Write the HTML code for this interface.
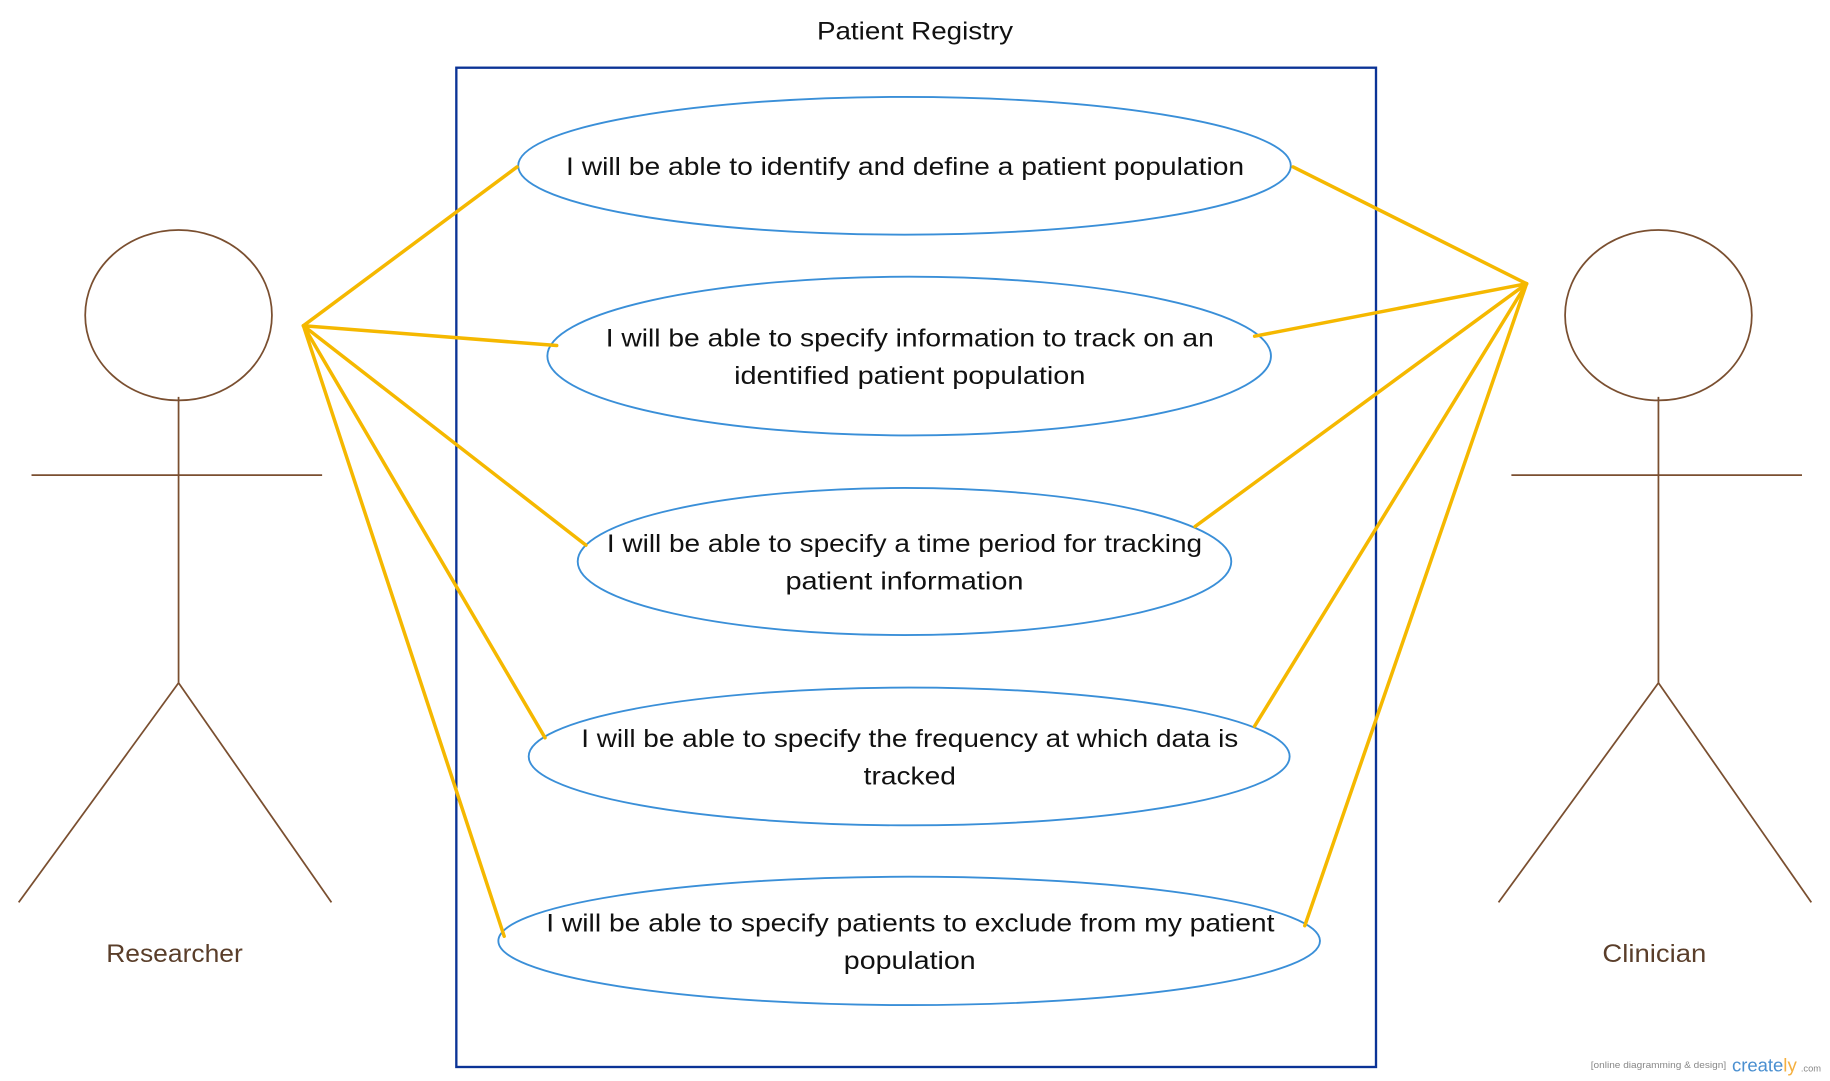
<!DOCTYPE html>
<html><head><meta charset="utf-8"><style>
html,body{margin:0;padding:0;background:#fff;}
svg{display:block;}
text{font-family:"Liberation Sans",sans-serif;}
</style></head><body>
<svg width="1830" height="1081" viewBox="0 0 1568 926" preserveAspectRatio="none" xmlns="http://www.w3.org/2000/svg">
<rect width="1568" height="934" fill="#fff"/>
<text x="700" y="34" font-size="21" fill="#111" textLength="168" lengthAdjust="spacingAndGlyphs">Patient Registry</text>
<rect x="391" y="58" width="788" height="856" fill="none" stroke="#0b3396" stroke-width="2"/>
<g fill="none" stroke="#3a8fd8" stroke-width="1.6">
<ellipse cx="775" cy="142" rx="331" ry="59"/>
<ellipse cx="779" cy="305" rx="310" ry="68"/>
<ellipse cx="775" cy="481" rx="280" ry="63"/>
<ellipse cx="779" cy="648" rx="326" ry="59"/>
<ellipse cx="779" cy="806" rx="352" ry="55"/>
</g>
<g font-size="21" fill="#111">
<text x="485" y="150" textLength="581" lengthAdjust="spacingAndGlyphs">I will be able to identify and define a patient population</text>
<text x="519" y="297" textLength="521" lengthAdjust="spacingAndGlyphs">I will be able to specify information to track on an</text>
<text x="629" y="329" textLength="301" lengthAdjust="spacingAndGlyphs">identified patient population</text>
<text x="520" y="473" textLength="510" lengthAdjust="spacingAndGlyphs">I will be able to specify a time period for tracking</text>
<text x="673" y="505" textLength="204" lengthAdjust="spacingAndGlyphs">patient information</text>
<text x="498" y="640" textLength="563" lengthAdjust="spacingAndGlyphs">I will be able to specify the frequency at which data is</text>
<text x="740" y="672" textLength="79" lengthAdjust="spacingAndGlyphs">tracked</text>
<text x="468" y="798" textLength="624" lengthAdjust="spacingAndGlyphs">I will be able to specify patients to exclude from my patient</text>
<text x="723" y="830" textLength="113" lengthAdjust="spacingAndGlyphs">population</text>
</g>
<g fill="none" stroke="#7a4f30" stroke-width="1.5">
<ellipse cx="153" cy="270" rx="80" ry="73"/>
<line x1="153" y1="340" x2="153" y2="585"/>
<line x1="27" y1="407" x2="276" y2="407"/>
<line x1="153" y1="585" x2="16" y2="773"/>
<line x1="153" y1="585" x2="284" y2="773"/>
<ellipse cx="1421" cy="270" rx="80" ry="73"/>
<line x1="1421" y1="340" x2="1421" y2="585"/>
<line x1="1295" y1="407" x2="1544" y2="407"/>
<line x1="1421" y1="585" x2="1284" y2="773"/>
<line x1="1421" y1="585" x2="1552" y2="773"/>
</g>
<text x="91" y="824" font-size="21" fill="#5a3e2a" textLength="117" lengthAdjust="spacingAndGlyphs">Researcher</text>
<text x="1373" y="824" font-size="21" fill="#5a3e2a" textLength="89" lengthAdjust="spacingAndGlyphs">Clinician</text>
<g stroke="#f5b800" stroke-width="3" stroke-linecap="round">
<line x1="260" y1="279" x2="443" y2="143"/>
<line x1="260" y1="279" x2="477" y2="296"/>
<line x1="260" y1="279" x2="502" y2="467"/>
<line x1="260" y1="279" x2="467" y2="632"/>
<line x1="260" y1="279" x2="432" y2="802"/>
<line x1="1308" y1="243" x2="1108" y2="143"/>
<line x1="1308" y1="243" x2="1075" y2="288"/>
<line x1="1308" y1="243" x2="1024" y2="451"/>
<line x1="1308" y1="243" x2="1075" y2="622"/>
<line x1="1308" y1="243" x2="1118" y2="793"/>
</g>
<text x="1363" y="915" font-size="8" fill="#888" textLength="116" lengthAdjust="spacingAndGlyphs">[online diagramming &amp; design]</text>
<text x="1484" y="918" font-size="16" fill="#4a8fd0" textLength="44" lengthAdjust="spacingAndGlyphs">create</text>
<text x="1528" y="918" font-size="16" fill="#f5b040">ly</text>
<text x="1543" y="918" font-size="8" fill="#888">.com</text>
</svg>
</body></html>
